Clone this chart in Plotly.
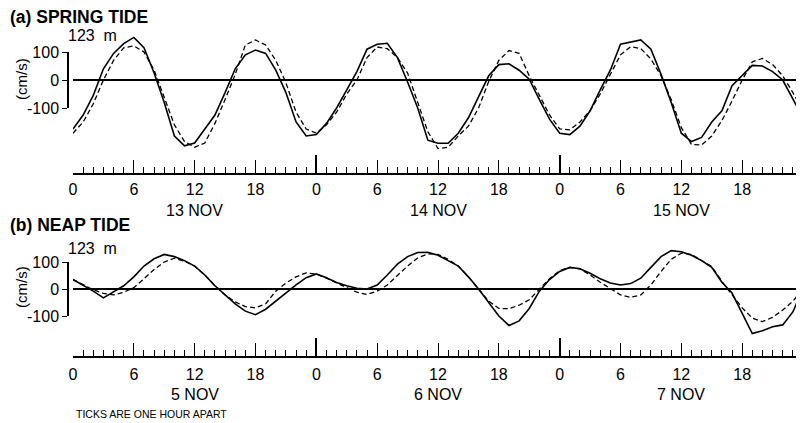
import plotly.graph_objects as go

# ---------------- data ----------------
hours = list(range(73))

spring_obs = [-175, -125, -55, 40, 95, 130, 152, 115, 25, -80, -200, -235, -225, -175, -125, -45,
              40, 90, 107, 95, 35, -45, -150, -200, -195, -155, -100, -35, 30, 110, 128, 131,
              80, -7, -100, -215, -226, -226, -190, -135, -62, 15, 55, 58, 35, 3, -70, -140,
              -190, -195, -165, -110, -35, 35, 128, 135, 143, 110, 20, -80, -190, -220, -205, -150,
              -110, -20, 15, 52, 50, 30, 0, -65, -135]
spring_model = [-190, -150, -85, 0, 70, 115, 122, 100, 35, -60, -160, -220, -240, -225, -155, -70,
                20, 125, 143, 125, 70, -10, -115, -175, -190, -160, -115, -50, 0, 80, 118, 112,
                80, 25, -80, -185, -245, -240, -200, -165, -100, -5, 70, 105, 95, 15, -55, -125,
                -175, -178, -150, -110, -50, 20, 90, 119, 112, 75, 15, -70, -170, -230, -232, -200,
                -145, -75, 0, 65, 77, 55, 15, -45, -110]

neap_obs = [35, 15, -8, -33, -12, 12, 45, 85, 112, 128, 120, 105, 85, 52, 12, -22,
            -55, -82, -95, -75, -45, -12, 15, 42, 56, 42, 24, 12, 3, 0, 15, 52,
            92, 120, 135, 136, 125, 105, 85, 45, 0, -50, -100, -135, -118, -72, -8, 35,
            65, 80, 75, 58, 38, 22, 15, 20, 40, 80, 120, 142, 138, 125, 105, 80,
            25, -15, -90, -165, -155, -140, -133, -85, 0]
neap_model = [35, 15, -3, -16, -22, -12, 5, 38, 72, 100, 114, 103, 85, 52, 12, -22,
              -48, -65, -70, -55, -8, 22, 45, 60, 55, 40, 24, 5, -12, -20, -8, 15,
              50, 85, 115, 130, 128, 110, 85, 45, 0, -45, -72, -73, -60, -40, 0, 38,
              68, 80, 75, 52, 25, 0, -22, -31, -22, 15, 65, 110, 133, 128, 105, 83,
              28, -22, -70, -108, -121, -105, -78, -45, 0]

tick_hours = list(range(0, 73, 6))
tick_labels = ["0", "6", "12", "18"] * 3 + ["0"]
day_tick_hours = [0, 24, 48, 72]
day_label_hours = [12, 36, 60]
spring_days = ["13 NOV", "14 NOV", "15 NOV"]
neap_days = ["5 NOV", "6 NOV", "7 NOV"]
speed_ticks = [-100, 0, 100]
speed_tick_labels = ["-100", "0", "100"]

# ---------------- layout helpers ----------------
W, H = 804, 423
OFF = 8  # page body margin that shifts the figure inside the window
FONT = "Liberation Sans, Arial, Helvetica, sans-serif"


def fy(p):
    return 1 - (p - OFF) / H


def fx(p):
    return (p - OFF) / W


x_dom = [fx(73), fx(804)]
x_rng = [0, 72 * (804 - 73) / (803 - 73)]

fig = go.Figure()

solid = dict(color="black", width=1.6)
dashed = dict(color="black", width=1.3, dash="5px,3px")

fig.add_trace(go.Scatter(x=hours, y=spring_obs, mode="lines", line=solid, xaxis="x", yaxis="y"))
fig.add_trace(go.Scatter(x=hours, y=spring_model, mode="lines", line=dashed, xaxis="x", yaxis="y"))
fig.add_trace(go.Scatter(x=hours, y=neap_obs, mode="lines", line=solid, xaxis="x2", yaxis="y2"))
fig.add_trace(go.Scatter(x=hours, y=neap_model, mode="lines", line=dashed, xaxis="x2", yaxis="y2"))
# helper (empty) traces so the bracket axes and day-tick axes get drawn
fig.add_trace(go.Scatter(x=[], y=[], xaxis="x", yaxis="y3"))
fig.add_trace(go.Scatter(x=[], y=[], xaxis="x2", yaxis="y4"))
fig.add_trace(go.Scatter(x=[], y=[], xaxis="x3", yaxis="y"))
fig.add_trace(go.Scatter(x=[], y=[], xaxis="x4", yaxis="y2"))

tickfont = dict(family=FONT, size=16, color="black")


def ruler(pos, overlay=None, days=False, standoff=2):
    d = dict(domain=x_dom, range=x_rng, anchor="free", position=pos, showgrid=False,
             zeroline=False, automargin=False, fixedrange=True)
    if days:
        d.update(tickmode="array", tickvals=day_tick_hours, ticks="inside", ticklen=19,
                 tickwidth=1.5, tickcolor="black", showticklabels=False, showline=False,
                 overlaying=overlay)
    else:
        d.update(tickmode="array", tickvals=tick_hours, ticktext=tick_labels, ticks="inside",
                 ticklen=13, tickwidth=1.4, tickcolor="black", showline=True, linecolor="black",
                 linewidth=1.5, tickfont=tickfont, ticklabelstandoff=standoff,
                 minor=dict(tick0=0, dtick=1, ticks="inside", ticklen=6, tickwidth=1.1,
                            tickcolor="black"))
    return d


def data_y(top_px, bot_px, zero_px, px_per_100):
    return dict(domain=[fy(bot_px), fy(top_px)],
                range=[(zero_px - bot_px) / px_per_100 * 100, (zero_px - top_px) / px_per_100 * 100],
                showticklabels=False, showline=False, ticks="", showgrid=False,
                zeroline=True, zerolinecolor="black", zerolinewidth=2.2, automargin=False,
                fixedrange=True)


def bracket(top_px, bot_px):
    return dict(domain=[fy(bot_px), fy(top_px)], range=[-100, 100], anchor="free",
                position=fx(68), showline=True, linecolor="black", linewidth=1.5,
                ticks="outside", ticklen=5, tickwidth=1.4, tickcolor="black",
                tickmode="array", tickvals=speed_ticks, ticktext=speed_tick_labels,
                tickfont=tickfont, showgrid=False, zeroline=False, automargin=False,
                fixedrange=True, ticklabelstandoff=0)


fig.update_layout(
    width=W, height=H, margin=dict(l=0, r=0, t=0, b=0),
    paper_bgcolor="white", plot_bgcolor="rgba(0,0,0,0)", showlegend=False,
    font=dict(family=FONT, color="black"),
    xaxis=ruler(fy(174), standoff=1),
    xaxis3=ruler(fy(174), overlay="x", days=True),
    xaxis2=ruler(fy(357), standoff=3),
    xaxis4=ruler(fy(357), overlay="x2", days=True),
    yaxis=data_y(30, 152, 80, 28),
    yaxis2=data_y(238, 342, 289, 27),
    yaxis3=bracket(52, 108),
    yaxis4=bracket(262, 316),
)

ann = []
for h, t in zip(day_label_hours, spring_days):
    ann.append(dict(x=h, xref="x", y=fy(210), yref="paper", text=t, showarrow=False,
                    font=dict(family=FONT, size=16, color="black"), xanchor="center", yanchor="middle"))
for h, t in zip(day_label_hours, neap_days):
    ann.append(dict(x=h, xref="x2", y=fy(394), yref="paper", text=t, showarrow=False,
                    font=dict(family=FONT, size=16, color="black"), xanchor="center", yanchor="middle"))

for title, ty in [("(a) SPRING TIDE", 17.5), ("(b) NEAP TIDE", 225)]:
    ann.append(dict(x=fx(10), xref="paper", y=fy(ty), yref="paper", text="<b>" + title + "</b>",
                    showarrow=False, xanchor="left", yanchor="middle", borderpad=0, borderwidth=0,
                    font=dict(family=FONT, size=17.5, color="black")))
for ty in [36, 248]:
    ann.append(dict(x=fx(66), xref="paper", y=fy(ty), yref="paper", text="123  m",
                    showarrow=False, xanchor="left", yanchor="middle",
                    font=dict(family=FONT, size=16, color="black")))
for ty in [79, 287]:
    ann.append(dict(x=fx(21), xref="paper", y=fy(ty), yref="paper", text="(cm/s)",
                    showarrow=False, xanchor="center", yanchor="middle", textangle=-90,
                    font=dict(family=FONT, size=15, color="black")))
ann.append(dict(x=fx(74), xref="paper", y=fy(413.5), yref="paper",
                text="TICKS ARE ONE HOUR APART", showarrow=False, xanchor="left",
                yanchor="middle", font=dict(family=FONT, size=10.5, color="black")))

fig.update_layout(annotations=ann)

fig.write_html("out.html")
